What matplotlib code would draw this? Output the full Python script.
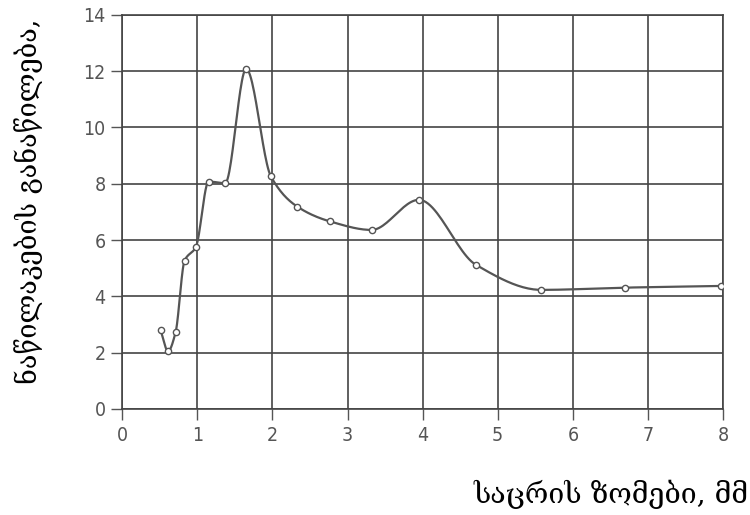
import matplotlib.pyplot as plt
import numpy as np

# sieve size, mm  /  particle distribution
size = [0.51, 0.61, 0.71, 0.83, 0.98, 1.15, 1.37, 1.65, 1.98, 2.33, 2.77, 3.32, 3.95, 4.71, 5.58, 6.70, 7.98]
dist = [2.80, 2.05, 2.72, 5.27, 5.75, 8.08, 8.02, 12.08, 8.26, 7.19, 6.66, 6.36, 7.43, 5.12, 4.23, 4.31, 4.37]

x_ticks = [0, 1, 2, 3, 4, 5, 6, 7, 8]
y_ticks = [0, 2, 4, 6, 8, 10, 12, 14]
xlabel = 'საცრის ზომები, მმ'
ylabel = 'ნაწილაკების განაწილება,'


def pchip(xs, ys, n=25):
    # monotone cubic through the points, only for drawing the curve
    x = np.asarray(xs, float); y = np.asarray(ys, float)
    h = np.diff(x); d = np.diff(y) / h
    m = np.zeros_like(y)
    for k in range(1, len(x)-1):
        if d[k-1]*d[k] > 0:
            w1 = 2*h[k] + h[k-1]; w2 = h[k] + 2*h[k-1]
            m[k] = (w1 + w2) / (w1/d[k-1] + w2/d[k])
    m[0] = d[0]; m[-1] = d[-1]
    ox, oy = [], []
    for k in range(len(x)-1):
        t = np.linspace(0, 1, n, endpoint=False)
        h00 = 2*t**3 - 3*t**2 + 1; h10 = t**3 - 2*t**2 + t
        h01 = -2*t**3 + 3*t**2; h11 = t**3 - t**2
        ox.extend(x[k] + t*h[k])
        oy.extend(h00*y[k] + h10*h[k]*m[k] + h01*y[k+1] + h11*h[k]*m[k+1])
    ox.append(x[-1]); oy.append(y[-1])
    return np.array(ox), np.array(oy)


fig = plt.figure(figsize=(7.5, 5.15), dpi=100)
ax = fig.add_axes([0.163, 0.206, 0.801, 0.765])

sx, sy = pchip(size, dist)
ax.plot(sx, sy, '-', color='#555555', linewidth=1.6, zorder=3)
ax.plot(size, dist, 'o', color='#555555', markerfacecolor='white', markersize=4.5,
        markeredgewidth=1.0, zorder=4)

ax.set_xlim(0, 8)
ax.set_ylim(0, 14)
ax.set_xticks(x_ticks)
ax.set_yticks(y_ticks)
ax.grid(True, color='#444444', linewidth=1.2)
ax.set_axisbelow(True)
for s in ax.spines.values():
    s.set_color('#444444')
    s.set_linewidth(1.2)
ax.tick_params(direction='out', length=8, width=1.0, pad=4, color='#555555', labelcolor='#555555')
for lab in ax.get_xticklabels() + ax.get_yticklabels():
    lab.set_family('DejaVu Sans')
    lab.set_stretch('condensed')
    lab.set_fontsize(14)

fig.text(0.038, 0.61, ylabel, rotation=90, ha='center', va='center', fontsize=19.5,
         family=['DejaVu Serif', 'DejaVu Sans'])
fig.text(0.998, 0.04, xlabel, ha='right', va='center', fontsize=20.5,
         family=['DejaVu Serif', 'DejaVu Sans'])

plt.savefig('out.png', dpi=100)
